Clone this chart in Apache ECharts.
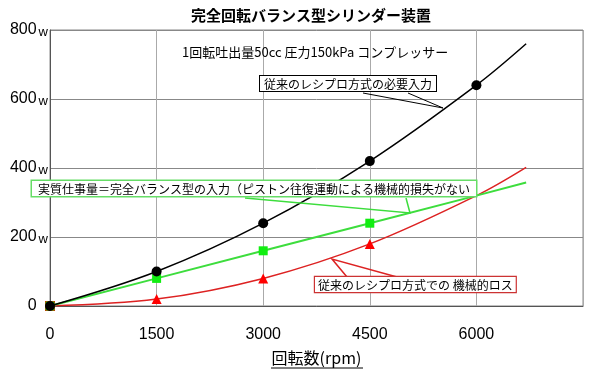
<!DOCTYPE html>
<html>
<head>
<meta charset="utf-8">
<script src="https://cdn.jsdelivr.net/npm/echarts@6/dist/echarts.min.js"></script>
<style>html,body{margin:0;padding:0;background:#fff;}#c{width:601px;height:371px;}</style>
</head>
<body>
<div id="c"></div>
<script>
// ---- data ----
const rpm = [0, 1500, 3000, 4500, 6000, 6700];
const requiredInput = [0, 100, 240, 420, 640, 760];   // black
const actualWork = [0, 80, 160, 240, 320, 358];       // green
const mechLoss = [0, 20, 80, 180, 320, 402];          // red
const blackMarked = [true, true, true, true, true, false];
const greenMarked = [true, true, true, true, false, false];
const redMarked = [true, true, true, true, false, false];
const xTicks = [0, 1500, 3000, 4500, 6000];
const yTicks = [0, 200, 400, 600, 800];

const titleText = '完全回転バランス型シリンダー装置';
const subText = '1回転吐出量50cc 圧力150kPa コンプレッサー';
const blackNote = '従来のレシプロ方式の必要入力';
const greenNote = '実質仕事量＝完全バランス型の入力（ピストン往復運動による機械的損失がない';
const redNote = '従来のレシプロ方式での 機械的ロス';
const xName = '回転数(rpm)';

const JP = '"Noto Sans CJK JP", sans-serif';
const NUM = '"Liberation Sans", Arial, sans-serif';

function pts(ys, marked, sym, firstSym) {
  return rpm.map((x, i) => ({
    value: [x, ys[i]],
    symbol: marked[i] ? (i === 0 && firstSym ? firstSym : sym) : 'none'
  }));
}

const chart = echarts.init(document.getElementById('c'));
chart.setOption({
  animation: false,
  backgroundColor: '#fff',
  grid: { left: 50, right: 18, top: 30, bottom: 64, show: true, borderColor: '#888', borderWidth: 1 },
  xAxis: {
    type: 'value', min: 0, max: 7500, interval: 1500,
    axisLine: { show: true, lineStyle: { color: '#555' } },
    axisTick: { show: false },
    splitLine: { show: true, lineStyle: { color: '#aaa', width: 1 } },
    axisLabel: {
      margin: 21, color: '#000', fontFamily: NUM, fontSize: 16,
      formatter: v => xTicks.includes(v) ? String(v) : ''
    },
    name: xName, nameLocation: 'middle', nameGap: 44,
    nameTextStyle: { fontFamily: JP, fontSize: 16, color: '#000' }
  },
  yAxis: {
    type: 'value', min: 0, max: 800, interval: 200,
    axisLine: { show: true, lineStyle: { color: '#555' } },
    axisTick: { show: false },
    splitLine: { show: true, lineStyle: { color: '#888', width: 1 } },
    axisLabel: {
      margin: 2, color: '#000',
      formatter: v => yTicks.includes(v) ? (v === 0 ? '{n|0}{h|w}' : '{n|' + v + '}{w|w}') : '',
      rich: {
        n: { fontFamily: NUM, fontSize: 16, color: '#000' },
        w: { fontFamily: NUM, fontSize: 13, color: '#000', verticalAlign: 'bottom', padding: [4, 0, 0, 2] },
        h: { fontFamily: NUM, fontSize: 13, color: 'rgba(0,0,0,0)', verticalAlign: 'bottom', padding: [4, 0, 0, 2] }
      }
    }
  },
  series: [
    {
      name: 'loss', type: 'line', smooth: 0.35, z: 2,
      data: pts(mechLoss, redMarked, 'triangle', 'rect'),
      symbolSize: 10,
      lineStyle: { color: '#dd2222', width: 1.5 },
      itemStyle: { color: '#ff0000' }
    },
    {
      name: 'work', type: 'line', smooth: false, z: 3,
      data: pts(actualWork, greenMarked, 'rect'),
      symbolSize: 9,
      lineStyle: { color: '#3ddd3d', width: 2 },
      itemStyle: { color: '#11ee11' }
    },
    {
      name: 'input', type: 'line', smooth: 0.35, z: 4,
      data: pts(requiredInput, blackMarked, 'circle'),
      symbolSize: 10,
      lineStyle: { color: '#000', width: 1.5 },
      itemStyle: { color: '#000' }
    }
  ],
  graphic: [
    { type: 'text', x: 311, y: 15, z: 100,
      style: { text: titleText, font: 'bold 15px ' + JP, fill: '#000', align: 'center', verticalAlign: 'middle' } },
    { type: 'text', x: 182, y: 52, z: 100,
      style: { text: subText, font: '13px ' + JP, fill: '#000', align: 'left', verticalAlign: 'middle' } },
    // black callout
    { type: 'polyline', z: 90, shape: { points: [[363, 93], [443, 108], [408, 93]] },
      style: { stroke: '#000', lineWidth: 1, fill: null } },
    { type: 'text', x: 260, y: 76, z: 100,
      style: { text: blackNote, font: '12px ' + JP, fill: '#000', backgroundColor: '#fff',
               borderColor: '#000', borderWidth: 1, padding: [2, 4, 1, 4] } },
    // green callout
    { type: 'polyline', z: 90, shape: { points: [[245, 198], [410, 213], [406, 198]] },
      style: { stroke: '#3ddd3d', lineWidth: 1.5, fill: null } },
    { type: 'text', x: 32, y: 181, z: 100,
      style: { text: greenNote, font: '12px ' + JP, fill: '#000', backgroundColor: '#fff',
               borderColor: '#66dd66', borderWidth: 1.5, padding: [2, 6, 1, 6] } },
    // red callout
    { type: 'polyline', z: 90, shape: { points: [[347, 277], [332, 259], [397, 277]] },
      style: { stroke: '#dd2222', lineWidth: 1.5, fill: null } },
    { type: 'text', x: 315, y: 277, z: 100,
      style: { text: redNote, font: '12px ' + JP, fill: '#000', backgroundColor: '#fff',
               borderColor: '#cc3333', borderWidth: 1.2, padding: [2, 3, 1, 3] } },
    // underline for axis name
    { type: 'line', z: 100, shape: { x1: 271, y1: 368, x2: 363, y2: 368 },
      style: { stroke: '#000', lineWidth: 1 } }
  ]
});
</script>
</body>
</html>
